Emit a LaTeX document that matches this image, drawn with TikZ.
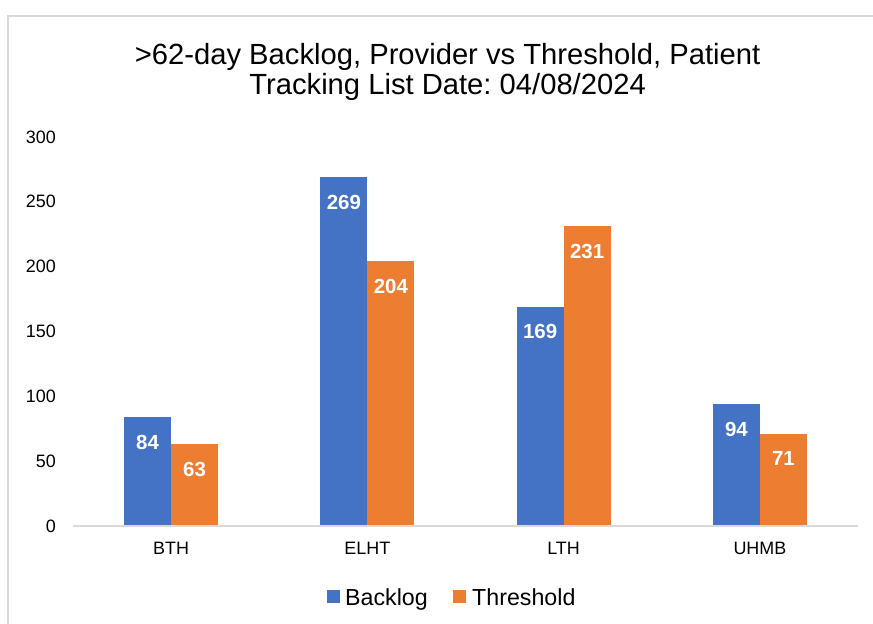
\documentclass[tikz,border=0pt]{standalone}
\usepackage{fontspec}
\setmainfont{Liberation Sans}
\frenchspacing
\definecolor{backlogblue}{HTML}{4472C4}
\definecolor{thresholdorange}{HTML}{ED7D31}
\definecolor{framegray}{HTML}{D9D9D9}
\tikzset{
  titletext/.style={font=\fontsize{29.3}{34}\selectfont, anchor=base, inner sep=0pt},
  ticklabel/.style={font=\fontsize{18}{21}\selectfont, anchor=east, inner sep=0pt},
  catlabel/.style={font=\fontsize{18}{21}\selectfont, anchor=center, inner sep=0pt},
  valuelabel/.style={font=\fontsize{20.5}{24}\selectfont\bfseries, text=white, anchor=center, inner sep=0pt},
  legendtext/.style={font=\fontsize{23.3}{28}\selectfont, anchor=base west, inner sep=0pt},
  frameline/.style={draw=framegray, line width=1.5bp},
}
\begin{document}
\begin{tikzpicture}[x=1bp, y=-1bp]
\useasboundingbox (0,0) rectangle (873,624);
\fill[white] (0,0) rectangle (873,624);
% chart frame
\draw[frameline] (8,624) -- (8,16) -- (873,16);
% title
\node[titletext] (title1) at (447.6,64.7) {>62-day Backlog, Provider vs Threshold, Patient};
\node[titletext] (title2) at (447.6,95) {Tracking List Date: 04/08/2024};
% value axis labels
\foreach \v in {0,50,...,300}
  \node[ticklabel] (tick\v) at (56,{526-\v*1.2967}) {\v};
% bars: category / centre x / backlog / threshold
\foreach \cat/\cx/\b/\t in {BTH/171.1/84/63, ELHT/367.4/269/204, LTH/563.6/169/231, UHMB/759.9/94/71} {
  \fill[backlogblue] ({\cx-47},526) rectangle (\cx,{526-\b*1.2967});
  \fill[thresholdorange] (\cx,526) rectangle ({\cx+47},{526-\t*1.2967});
  \node[valuelabel] (b\cat) at ({\cx-23.5},{526-\b*1.2967+25}) {\b};
  \node[valuelabel] (t\cat) at ({\cx+23.5},{526-\t*1.2967+25}) {\t};
  \node[catlabel] (c\cat) at (\cx,548) {\cat};
}
% category axis
\draw[frameline] (73,526) -- (858,526);
% legend
\fill[backlogblue] (327,590) rectangle (340,603);
\node[legendtext] (legb) at (345,605) {Backlog};
\fill[thresholdorange] (453,590) rectangle (466,603);
\node[legendtext] (legt) at (472,605) {Threshold};
\end{tikzpicture}
\end{document}
